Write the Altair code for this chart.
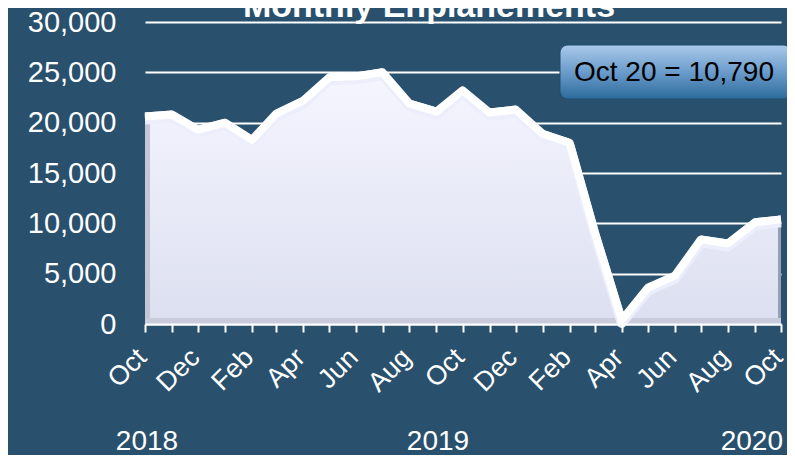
import altair as alt
import pandas as pd

# ---- data ----
months = pd.date_range("2018-10-01", "2020-10-01", freq="MS")
enplanements = [21000, 21200, 19700, 20400, 18700, 21300, 22600, 24900, 25000, 25400,
                22300, 21500, 23600, 21400, 21700, 19300, 18400, 9500, 800, 4000,
                5200, 8800, 8400, 10500, 10790]
years = ["2018", "2019", "2020"]
y_ticks = [0, 5000, 10000, 15000, 20000, 25000, 30000]
title_text = "Monthly Enplanements"

df = pd.DataFrame({"month": months, "value": enplanements})
first = df.iloc[[0]].assign(zero=0)
last = df.iloc[[-1]]
callout = pd.DataFrame({"label": [f"Oct 20 = {enplanements[-1]:,}"]})

BG = "#29506d"
FONT = "Liberation Sans"

xscale = alt.Scale(domain=[months[0].isoformat(), months[-1].isoformat()], nice=False)
yscale = alt.Scale(domain=[0, 30000], nice=False)

x_axis = alt.Axis(
    title=None, tickCount={"interval": "month", "step": 1},
    labelExpr="month(datum.value) % 2 == 1 ? timeFormat(datum.value, '%b') : ''",
    labelAngle=-45, labelAlign="right", labelBaseline="middle",
    labelFontSize=27, labelColor="white", labelFont=FONT, labelPadding=21, labelOffset=-3,
    labelFlush=False, labelOverlap=False, labelBound=False,
    domainColor="white", domainWidth=2, tickColor="white", tickWidth=2, tickSize=8,
    grid=False, zindex=1,
)
y_axis = alt.Axis(
    title=None, values=y_ticks,
    labelExpr="format(datum.value, ',.0f')",
    labelFontSize=29, labelColor="white", labelFont=FONT, labelPadding=29,
    domain=False, ticks=False, grid=True, gridColor="white", gridWidth=2,
)

base = alt.Chart(df)

area = base.mark_area(
    color={"gradient": "linear", "x1": 0, "y1": 0, "x2": 0, "y2": 1,
           "stops": [{"offset": 0, "color": "#f5f6ff"}, {"offset": 1, "color": "#dcdff0"}]},
    interpolate="linear",
).encode(
    x=alt.X("month:T", scale=xscale, axis=x_axis),
    y=alt.Y("value:Q", scale=yscale, axis=y_axis),
)

left_edge = alt.Chart(first).mark_rule(color="#c4c6d6", strokeWidth=5, xOffset=2.5).encode(
    x=alt.X("month:T", scale=xscale), y=alt.Y("value:Q", scale=yscale), y2="zero:Q"
)
right_edge = alt.Chart(last.assign(zero=0)).mark_rule(color="#9a9eb5", strokeWidth=3, xOffset=-1.5).encode(
    x=alt.X("month:T", scale=xscale), y=alt.Y("value:Q", scale=yscale), y2="zero:Q"
)
bottom_edge = alt.Chart(first.assign(end=months[-1])).mark_rule(
    color="#c9cbdb", strokeWidth=6, yOffset=-3
).encode(
    x=alt.X("month:T", scale=xscale), x2="end:T", y=alt.Y("zero:Q", scale=yscale),
)

ridge_soft = base.mark_line(color="#eceefb", strokeWidth=10, yOffset=7, strokeJoin="round").encode(
    x=alt.X("month:T", scale=xscale), y=alt.Y("value:Q", scale=yscale)
)
ridge = base.mark_line(color="white", strokeWidth=8, yOffset=4, strokeJoin="round").encode(
    x=alt.X("month:T", scale=xscale), y=alt.Y("value:Q", scale=yscale)
)

title = alt.Chart(callout).mark_text(
    text=title_text, font=FONT, fontSize=34, fontWeight="bold", color="white",
    align="center", baseline="alphabetic",
).encode(x=alt.value(284), y=alt.value(-5))

box = alt.Chart(callout).mark_rect(
    cornerRadius=8, stroke="#1f4f73", strokeWidth=1,
    fill={"gradient": "linear", "x1": 0, "y1": 0, "x2": 0, "y2": 1,
          "stops": [{"offset": 0, "color": "#aac9ea"}, {"offset": 0.5, "color": "#6b9ccb"},
                    {"offset": 1, "color": "#2c6b9b"}]},
).encode(x=alt.value(415), x2=alt.value(646), y=alt.value(23), y2=alt.value(77))

box_text = alt.Chart(callout).mark_text(
    font=FONT, fontSize=28, color="black", align="center", baseline="middle",
).encode(x=alt.value(529), y=alt.value(51), text="label:N")

year_df = pd.DataFrame({"year": years})
ystyle = dict(font=FONT, fontSize=28, color="white", baseline="middle")
y2018 = alt.Chart(year_df.iloc[[0]]).mark_text(align="center", **ystyle).encode(
    x=alt.value(2), y=alt.value(420), text="year:N")
y2019 = alt.Chart(year_df.iloc[[1]]).mark_text(align="center", **ystyle).encode(
    x=alt.value(293), y=alt.value(420), text="year:N")
y2020 = alt.Chart(year_df.iloc[[2]]).mark_text(align="right", **ystyle).encode(
    x=alt.value(638), y=alt.value(420), text="year:N")

chart = alt.layer(
    area, left_edge, right_edge, bottom_edge, ridge_soft, ridge, box, box_text, title,
    y2018, y2019, y2020
).properties(
    width=636, height=302,
    autosize=alt.AutoSizeParams(type="none"),
    padding={"left": 137, "top": 14, "right": 6, "bottom": 131},
    background=BG,
).configure_view(stroke=None)

chart.save("out.html", embed_options={"renderer": "svg", "actions": False})
